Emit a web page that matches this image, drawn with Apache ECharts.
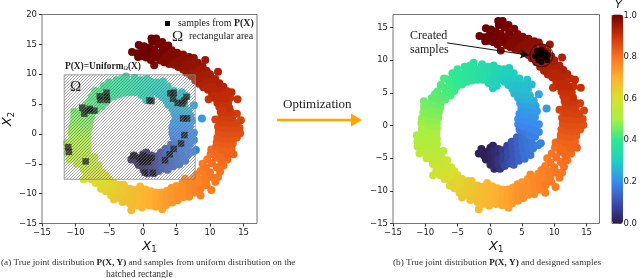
<!DOCTYPE html>
<html><head><meta charset="utf-8">
<style>html,body{margin:0;padding:0;background:#fff}#c{width:640px;height:278px}</style>
<script src="https://cdn.jsdelivr.net/npm/echarts@6/dist/echarts.min.js"></script>
</head><body><div id="c"></div>
<script>
const armDark=[[-1.7,-4.3,.01],[-1.3,-3.6,.01],[-.9,-4.6,.01],[-.6,-5.2,.01],[-.4,-4,.01],[.1,-3.4,.01],[.5,-3.1,.02],[.1,-4.4,.02],[.2,-5.2,.02],[.1,-6,.02],[.7,-6.6,.03],[.7,-3.9,.03],[.8,-4.8,.03],[.8,-5.6,.03],[1.3,-3.6,.04],[1.4,-4.4,.04],[1.4,-5.2,.05],[1.4,-6,.05],[1.6,-6.6,.05],[2,-3.8,.06],[2.1,-4.7,.07],[2,-5.5,.07],[2.3,-6.2,.08],[2.7,-3.1,.08],[2.8,-4,.09],[2.8,-5,.09],[3,-5.8,.1]];
const armBlue=[[3.4,-2.5,.11],[3.5,-3.4,.11],[3.6,-4.3,.11],[3.6,-5.2,.11],[3.7,-6,.12],[4.2,-1.8,.13],[4.2,-2.7,.13],[4.3,-3.6,.13],[4.4,-4.5,.13],[4.5,-5.4,.13],[4.9,-1.4,.15],[5,-2.4,.15],[5.1,-3.3,.15],[5.2,-4.2,.15],[5.4,-5.1,.15],[5.7,-2,.16],[5.8,-2.9,.16],[6,-3.8,.16],[6.3,-4.5,.16],[6.5,-2.6,.17],[6.7,-3.5,.17],[7.5,-3,.18],[7.9,-2.7,.18],[4.6,-.6,.17],[5.4,-1,.17],[6.2,-1.4,.18],[7,-1.7,.18],[4.4,.2,.19],[5.2,-.1,.19],[6,-.4,.19],[6.9,-.7,.19],[7.6,-1,.19],[4.4,1,.2],[5.2,.8,.2],[6,.6,.2],[6.8,.4,.2],[7.6,.2,.2],[4.6,1.8,.21],[5.4,1.6,.21],[6.2,1.5,.21],[7,1.3,.21],[4.9,2.6,.22],[5.7,2.4,.22],[6.5,2.3,.22],[7.3,2.2,.22],[8.8,2.6,.22]];
const armSky=[[7.6,4.8,.24],[4.7,3.4,.23],[5.5,3.2,.23],[6.3,3.1,.23],[7.1,3,.23],[4.4,4.2,.25],[5.2,4,.25],[6,3.9,.25],[6.8,3.8,.25],[3.8,4.9,.26],[4.6,4.8,.26],[5.4,4.7,.26],[6.2,4.6,.26],[3.5,5.6,.27],[4.3,5.6,.27],[5.1,5.5,.27],[5.9,5.5,.27],[6.5,6.3,.27],[2.9,6.2,.28],[3.7,6.4,.28],[4.5,6.4,.28],[5.3,6.3,.28],[5.8,7,.28],[2.3,6.7,.29],[3,7.2,.29],[3.8,7.2,.29],[4.6,7.2,.29],[2.1,7.6,.3],[2.9,8,.3],[3.7,8,.3],[1.3,7,.3],[1.1,6.1,.31],[.5,5.7,.31],[1.3,7.9,.31],[2.1,8.6,.31],[3,8.8,.31],[1.3,8.7,.32],[.6,6.6,.32],[.5,7.5,.32],[.5,8.4,.33],[.6,9.2,.33],[-.2,6.5,.33],[-.3,7.3,.33],[-.3,8.2,.34],[-.3,9,.34]];
const armGreen=[[-1.1,7,.35],[-1.1,7.8,.35],[-1.1,8.6,.35],[-1.2,9.4,.35],[-1.9,7,.36],[-1.9,7.8,.36],[-1.9,8.6,.36],[-2.5,9.6,.36],[-2.7,6.9,.37],[-2.7,7.7,.37],[-2.8,8.5,.37],[-3,9.2,.37],[-3.5,6.7,.38],[-3.6,7.5,.38],[-3.7,8.3,.38],[-3.9,9,.38],[-4.3,6.3,.39],[-4.5,7.1,.39],[-4.6,7.9,.39],[-5,8.6,.39],[-5.1,6,.4],[-5.3,6.7,.4],[-5.4,7.4,.4],[-5.8,8,.4],[-5.5,5.3,.41],[-6,5.6,.41],[-6.2,6.4,.41],[-6.6,7.1,.41],[-7.1,7.2,.42],[-6.1,4.6,.42],[-6.8,5,.42],[-7,5.8,.42],[-7.6,6.2,.42],[-6.9,4,.43],[-7.5,4.5,.43],[-8.1,5.2,.43],[-8.5,4.8,.44],[-7.6,3.5,.44],[-8.2,3.9,.44],[-9,4.2,.44],[-7.7,2.7,.45],[-8.5,3,.45],[-9.3,3.3,.45],[-10.2,3.7,.45],[-10.2,2.9,.46],[-7.9,2,.46],[-8.7,2.2,.46],[-9.5,2.4,.46],[-10.3,2,.47],[-8,1.2,.47],[-8.8,1.4,.47],[-9.6,1.5,.47],[-10.5,1.1,.48],[-8.2,.4,.48],[-9,.5,.48],[-9.8,.7,.48],[-10.6,.3,.49],[-8.2,-.4,.49],[-9,-.3,.49],[-9.8,-.2,.49],[-10.5,-.5,.5],[-8.3,-1.2,.5],[-9.1,-1.1,.5],[-9.9,-1,.5],[-10.7,-1.3,.5],[-11.3,-1.5,.5]];
const armLime=[[-8.2,-2,.51],[-9,-1.9,.51],[-9.8,-1.8,.51],[-10.6,-2,.51],[-11.2,-2.4,.51],[-8.2,-2.8,.52],[-9,-2.7,.52],[-9.8,-2.6,.52],[-10.6,-2.8,.52],[-11.2,-3.2,.52],[-7.2,-3.9,.53],[-8.3,-3.6,.53],[-9.1,-3.5,.53],[-9.9,-3.4,.53],[-10.6,-3.6,.53],[-10.9,-4.3,.54],[-8.2,-4.4,.54],[-9,-4.3,.54],[-9.8,-4.2,.54],[-7.5,-4.8,.55],[-8.3,-5.1,.55],[-9.1,-5.1,.55],[-9.8,-5,.55],[-7.2,-5.4,.56],[-8,-5.8,.56],[-8.8,-5.9,.56],[-6.6,-5.3,.57],[-7,-6.2,.57],[-7.6,-6.7,.57],[-8.3,-6.8,.58],[-8.8,-7.6,.58],[-6,-6.4,.58],[-6.3,-7.1,.58],[-7,-7.4,.59],[-7.7,-7.6,.59],[-5.5,-7,.6],[-5.6,-7.8,.6],[-6.3,-8.2,.6],[-7,-8.2,.61],[-5,-7.6,.61],[-4.9,-8.4,.62],[-5.6,-8.7,.62],[-6.2,-9.2,.62],[-4.3,-8.2,.63]];
const armYellow=[[-4.2,-9,.63],[-4.8,-9.3,.63],[-5.5,-9.6,.63],[-3.4,-8.5,.64],[-3.4,-9.4,.64],[-4,-9.9,.64],[-4.7,-10.3,.64],[-2.8,-8.5,.65],[-2.7,-9.3,.65],[-3,-10.2,.65],[-3.6,-10.7,.65],[-4.3,-11,.65],[-1.9,-9.2,.66],[-2,-10,.66],[-2.4,-10.9,.66],[-3,-11.4,.66],[-1.2,-9.4,.67],[-1.2,-10.2,.67],[-1.5,-11,.67],[-1.9,-11.7,.67],[-1.7,-12.8,.68],[-.4,-8.8,.68],[-.4,-9.6,.68],[-.4,-10.4,.68],[-.6,-11.2,.68],[-1,-12,.68],[.4,-9.3,.69],[.4,-10.1,.69],[.3,-10.9,.69],[.2,-11.7,.69],[-.1,-12.3,.69],[1.2,-9.6,.7],[1.2,-10.4,.7],[1.1,-11.2,.7],[1,-12,.7],[2,-9.8,.71],[2,-10.6,.71],[1.9,-11.4,.71],[1.9,-12.2,.71],[2.9,-12.6,.72],[2.8,-9.8,.72],[2.8,-10.6,.72],[2.7,-11.4,.72],[2.7,-12.1,.72]];
const armOrange=[[3.6,-9.5,.73],[3.6,-10.3,.73],[3.5,-11.1,.73],[3.5,-11.9,.73],[4.3,-9,.74],[4.4,-9.9,.74],[4.4,-10.7,.74],[4.4,-11.5,.74],[5,-8.7,.74],[5.2,-9.5,.75],[5.2,-10.3,.75],[5.2,-11.1,.75],[5.9,-8.2,.75],[6,-9,.75],[6,-9.8,.75],[6,-10.6,.75],[6.3,-7.5,.76],[6.8,-8.1,.76],[6.9,-8.9,.76],[6.9,-9.7,.76],[6.9,-10.5,.76],[7.5,-7.4,.76],[7.7,-8.2,.77],[7.7,-9,.77],[7.8,-9.8,.77],[8.6,-10.3,.77],[8,-6.8,.77],[8.4,-7.6,.77],[8.5,-8.4,.77],[8.6,-9.2,.78],[8.6,-6.2,.78],[9.2,-7,.78],[9.4,-7.8,.78],[9.5,-8.6,.78],[10.2,-9.4,.78],[8.9,-5,.78],[9.4,-5.7,.79],[10,-6.4,.79],[10.3,-7.2,.79],[11.2,-7.2,.79],[10.8,-8,.79],[9.6,-4.3,.79],[10.3,-4.9,.8],[11,-5.6,.8],[11.5,-6.3,.8],[12,-5.3,.8],[10.1,-3.4,.8],[10.9,-4,.81],[11.7,-4.6,.81],[12.6,-4.3,.81],[10.2,-2.6,.81],[11,-3.1,.81],[11.8,-3.5,.81],[12.6,-3.5,.82],[13.5,-3.4,.82],[10.9,-2.2,.82],[11.7,-2.6,.82],[12.5,-2.7,.82],[13.2,-2.5,.82],[11,-1.4,.83],[11.8,-1.7,.83],[12.6,-1.8,.83],[13.4,-1.6,.83],[11.1,-.6,.84],[11.9,-.8,.84],[12.7,-.9,.84],[13.5,-.8,.84],[14,-.6,.84]];
const armRed=[[11.3,.3,.85],[12.1,.1,.85],[12.9,0,.85],[13.7,.1,.85],[14.5,.1,.85],[11.2,1.2,.86],[12,1,.86],[12.8,.9,.86],[13.6,.9,.86],[14.4,1,.86],[11.5,2,.87],[12.3,1.9,.87],[13.1,1.8,.87],[13.9,1.8,.87],[14.6,2.3,.87],[10.8,2.4,.87],[11.7,2.9,.88],[12.5,2.8,.88],[13.3,2.7,.88],[14,3.4,.88],[11.6,3.7,.89],[12.4,3.6,.89],[13.1,3.6,.89],[11.4,4.5,.89],[12.2,4.4,.89],[12.9,4.3,.9],[11.1,5.2,.9],[11.9,5.2,.9],[12.7,5.1,.9],[14.1,5.8,.9],[13,6,.9],[9.8,5.8,.9],[10.7,6,.91],[11.5,6,.91],[12.3,5.9,.91],[13.2,7,.91],[10.3,6.7,.91],[11.1,6.8,.91],[11.9,6.8,.91],[12.5,7.2,.91],[9.7,7.4,.92],[10.5,7.6,.92],[11.3,7.6,.92],[12,7.9,.92],[9,7.8,.92],[9.9,8.3,.92],[10.6,8.4,.92],[11.4,8.5,.93],[8.4,8.4,.93],[9.2,8.9,.93],[10,9.1,.93],[10.8,9.2,.93],[11.2,10.4,.93],[7.8,9,.93],[8.5,9.4,.94],[9.3,9.8,.94],[10,10,.94],[7.2,9.7,.94],[8,10.2,.94],[8.8,10.5,.94],[9.5,10.6,.94],[6.5,10.3,.95],[7.3,10.7,.95],[8.1,11,.95],[8.9,11.3,.95],[9.3,12.4,.95],[6,10.8,.95],[6.6,11.2,.96],[7.4,11.5,.96],[8.2,11.9,.96],[7.6,12.7,.96],[5.3,11.2,.96],[6,11.7,.96],[6.8,12.2,.96],[4.7,11.6,.97],[5.3,12,.97],[6,12.6,.97],[6.9,12.9,.97],[3.9,11.7,.97],[4.5,12.4,.97],[5.2,12.8,.97],[6,13.3,.97],[3.2,12,.98],[3.8,12.6,.98],[4.4,13.2,.98],[5.1,13.6,.98],[1.7,11.5,.98],[2.6,12.3,.98],[3.1,13,.98],[3.7,13.6,.98],[4.3,14,.98],[1.9,12.8,.99],[2.4,13.5,.99],[3,14.2,.99],[3.8,14.8,.99],[1.2,12.4,.99],[1.3,13.2,.99],[1.7,14.1,.99],[2.3,15,.99],[2.9,15.4,.99],[2,16,1],[1.4,15.4,1],[.5,12.8,1],[.6,13.6,1],[.9,14.4,1],[1.3,16,1],[-.2,13,1],[-.1,13.8,1],[.2,14.7,1],[-.7,12.9,1],[-.8,13.5,1],[-.6,14.9,1],[-1.6,13.7,1]];
const uniformSamples=[[-6.4,6.3],[-6.3,5.7],[-5.4,6.9],[-5.4,6.2],[-5.3,5.7],[-9,4.4],[-8.7,3.4],[-7.9,4.2],[-8.1,3.9],[-7.2,3.9],[-11.1,-2.2],[-11,-3],[-8.5,-4.6],[4.1,6.8],[4.6,6.9],[1,5.6],[1.3,5.5],[4.5,5.9],[5.2,5.2],[5.9,5.1],[6.5,6.2],[6.2,5.6],[6,2.6],[6.6,2.6],[6.2,-.2],[5.7,-1.6],[4.6,-2.5],[4,-3.4],[3.3,-4.4],[0,-3.6],[-.5,-4.1],[.5,-3.9],[1.3,-4],[-.1,-4.7],[.8,-4.7],[-1.4,-3.7],[1.5,-6.5],[.3,-6.5]];
const createdSamples=[[7,10.6],[7.3,11.4],[7.5,10],[7.8,10.8],[8,11.6],[8,9.7],[8.4,10.4],[8.6,11.2],[8.9,10],[9,10.8],[8.2,11],[7.4,10.6],[8.6,10.6]];
const omegaRect=[[-11.7,-7.6,7.8,9.9]];
const circleCentre=[[8,10.75]];
const arrowEnds=[[-6.6,12.65],[6.1,10.76]];
const xTicks=[-15,-10,-5,0,5,10,15];
const yTicksLeft=[-15,-10,-5,0,5,10,15,20];
const yTicksRight=[-15,-10,-5,0,5,10,15];
const cbarColors=['#2d1b4e','#3a4fb0','#3a8cf0','#1fd0c0','#30e890','#a8f040','#d8e030','#ffb030','#f87020','#c83008','#6f0000'];
const spiral=[].concat(armDark,armBlue,armSky,armGreen,armLime,armYellow,armOrange,armRed);

const tick=document.createElement('canvas');tick.width=3;tick.height=3;
const tc=tick.getContext('2d');
tc.fillStyle='rgba(255,255,255,0.12)';tc.fillRect(0,0,3,3);
tc.strokeStyle='rgba(115,115,115,0.72)';tc.lineWidth=.9;
tc.beginPath();tc.moveTo(-1,4);tc.lineTo(4,-1);tc.moveTo(-1,1);tc.lineTo(1,-1);tc.moveTo(2,4);tc.lineTo(4,2);tc.stroke();

const fmt=v=>String(v).replace('-','\u2212');
const lab={fontFamily:'DejaVu Sans',fontSize:8.5,color:'#222',margin:5};
const serif='Liberation Serif';
const nameStyle={rich:{i:{fontFamily:'DejaVu Sans',fontStyle:'italic',fontSize:13,color:'#111'},s:{fontFamily:'DejaVu Sans',fontSize:8.5,color:'#111',padding:[7,0,0,0]}}};
function xAxis(g,name){return {gridIndex:g,type:'value',min:-15,max:17,splitLine:{show:false},
  axisLine:{show:false,onZero:false},axisTick:{length:3,lineStyle:{color:'#333'},customValues:xTicks},
  axisLabel:Object.assign({},lab,{customValues:xTicks,formatter:fmt}),
  name:name,nameLocation:'middle',nameGap:15,nameMoveOverlap:false,nameTextStyle:nameStyle};}
function yAxis(g,max,t,name){return {gridIndex:g,type:'value',min:-15,max:max,splitLine:{show:false},
  axisLine:{show:false,onZero:false},axisTick:{length:3,lineStyle:{color:'#333'},customValues:t},
  axisLabel:Object.assign({},lab,{customValues:t,formatter:fmt}),
  name:name||'',nameLocation:'middle',nameGap:26,nameMoveOverlap:false,nameRotate:90,nameTextStyle:nameStyle};}
const T=(x,y,text,extra)=>({type:'text',left:x,top:y,z:50,style:Object.assign({text:text,fontFamily:serif,fontSize:10,fill:'#222'},extra||{})});
const capRich={b:{fontFamily:serif,fontSize:9.2,fontWeight:'bold',fill:'#222'}};

const option={
 animation:false,backgroundColor:'#fff',
 grid:[
  {left:42,top:14.5,width:215,height:209,show:true,borderColor:'#777',borderWidth:1,backgroundColor:'transparent'},
  {left:393,top:14.5,width:206.5,height:209,show:true,borderColor:'#777',borderWidth:1,backgroundColor:'transparent'},
  {left:612,top:14.5,width:11,height:209,show:true,borderColor:'#666',borderWidth:1,backgroundColor:'transparent'}],
 xAxis:[xAxis(0,'{i|X}{s|1}'),xAxis(1,'{i|X}{s|1}'),{gridIndex:2,type:'value',min:0,max:1,show:false}],
 yAxis:[yAxis(0,20,yTicksLeft,'{i|X}{s|2}'),yAxis(1,17,yTicksRight),
  {gridIndex:2,type:'value',min:0,max:1,interval:.2,position:'right',splitLine:{show:false},axisLine:{show:false,onZero:false},
   axisTick:{length:3,lineStyle:{color:'#333'}},axisLabel:Object.assign({},lab,{margin:5,formatter:v=>v.toFixed(1)}),
   name:'Y',nameLocation:'end',nameGap:7,nameTextStyle:{fontFamily:'DejaVu Sans',fontStyle:'italic',fontSize:11,color:'#111',align:'center',verticalAlign:'middle'}}],
 visualMap:{type:'continuous',seriesIndex:[0,1],dimension:2,min:0,max:1,calculable:false,hoverLink:false,
  left:612,top:14.5,itemWidth:11,itemHeight:209,text:['',''],showLabel:false,padding:0,borderWidth:0,inRange:{color:cbarColors},z:1},
 series:[
  {type:'scatter',xAxisIndex:0,yAxisIndex:0,data:spiral,symbolSize:8,z:2,silent:true,itemStyle:{opacity:1}},
  {type:'scatter',xAxisIndex:1,yAxisIndex:1,data:spiral,symbolSize:8,z:2,silent:true,itemStyle:{opacity:1}},
  {type:'scatter',xAxisIndex:0,yAxisIndex:0,data:uniformSamples,symbol:'rect',symbolSize:6.5,z:3,silent:true,itemStyle:{color:'#000'}},
  {type:'custom',xAxisIndex:0,yAxisIndex:0,data:omegaRect,z:4,silent:true,clip:false,
   encode:{x:[0,2],y:[1,3]},
   renderItem:function(p,api){const a=api.coord([api.value(0),api.value(3)]),b=api.coord([api.value(2),api.value(1)]);
    return {type:'rect',shape:{x:a[0],y:a[1],width:b[0]-a[0],height:b[1]-a[1]},style:{fill:{image:tick,repeat:'repeat'},stroke:'#888',lineWidth:.8}};}},
  {type:'scatter',xAxisIndex:1,yAxisIndex:1,data:createdSamples,symbolSize:6,z:5,silent:true,itemStyle:{color:'#000'}},
  {type:'scatter',xAxisIndex:1,yAxisIndex:1,data:circleCentre,symbolSize:23,z:6,silent:true,itemStyle:{color:'transparent',borderColor:'#111',borderWidth:1},
   markLine:{silent:true,symbol:['none','arrow'],symbolSize:[7,9],label:{show:false},lineStyle:{color:'#111',width:1,type:'solid'},
    data:[[{coord:arrowEnds[0]},{coord:arrowEnds[1]}]]}}
 ],
 graphic:[
  {type:'rect',left:165,top:21,z:50,shape:{width:5,height:5},style:{fill:'#000'}},
  T(178,18,'{r|samples from }{b|P(X)}',{rich:{r:{fontFamily:serif,fontSize:9.9,fill:'#222'},b:{fontFamily:serif,fontSize:9.9,fontWeight:'bold',fill:'#222'}}}),
  T(172,30,'\u03A9',{fontSize:15}),
  T(189,31.5,'rectangular area'),
  T(65,62,'{b|P(X)=Uniform}{s|\u03A9}{b|(X)}',{rich:{b:{fontFamily:serif,fontSize:9.4,fontWeight:'bold',fill:'#222'},s:{fontFamily:serif,fontSize:6,fill:'#222',padding:[4,0,0,0]}}}),
  T(70,80,'\u03A9',{fontSize:15}),
  T(410,30,'Created',{fontSize:12}),
  T(410,44,'samples',{fontSize:12}),
  T(283,98.5,'Optimization',{fontSize:13}),
  {type:'line',z:50,shape:{x1:277,y1:120,x2:352,y2:120},style:{stroke:'#ffa500',lineWidth:2.5}},
  {type:'polygon',z:50,shape:{points:[[351,113.5],[362,120],[351,126.5]]},style:{fill:'#ffa500'}},
  T(1,258,'(a) True joint distribution {b|P(X, Y)} and samples from uniform distribution on the',{fontSize:9.2,fill:'#333',rich:capRich}),
  T(106,269,'hatched rectangle',{fontSize:9.5,fill:'#333'}),
  T(393,258,'(b) True joint distribution {b|P(X, Y)} and designed samples',{fontSize:9.2,fill:'#333',rich:capRich})
 ]
};
echarts.init(document.getElementById('c'),null,{renderer:'canvas'}).setOption(option);
</script></body></html>
